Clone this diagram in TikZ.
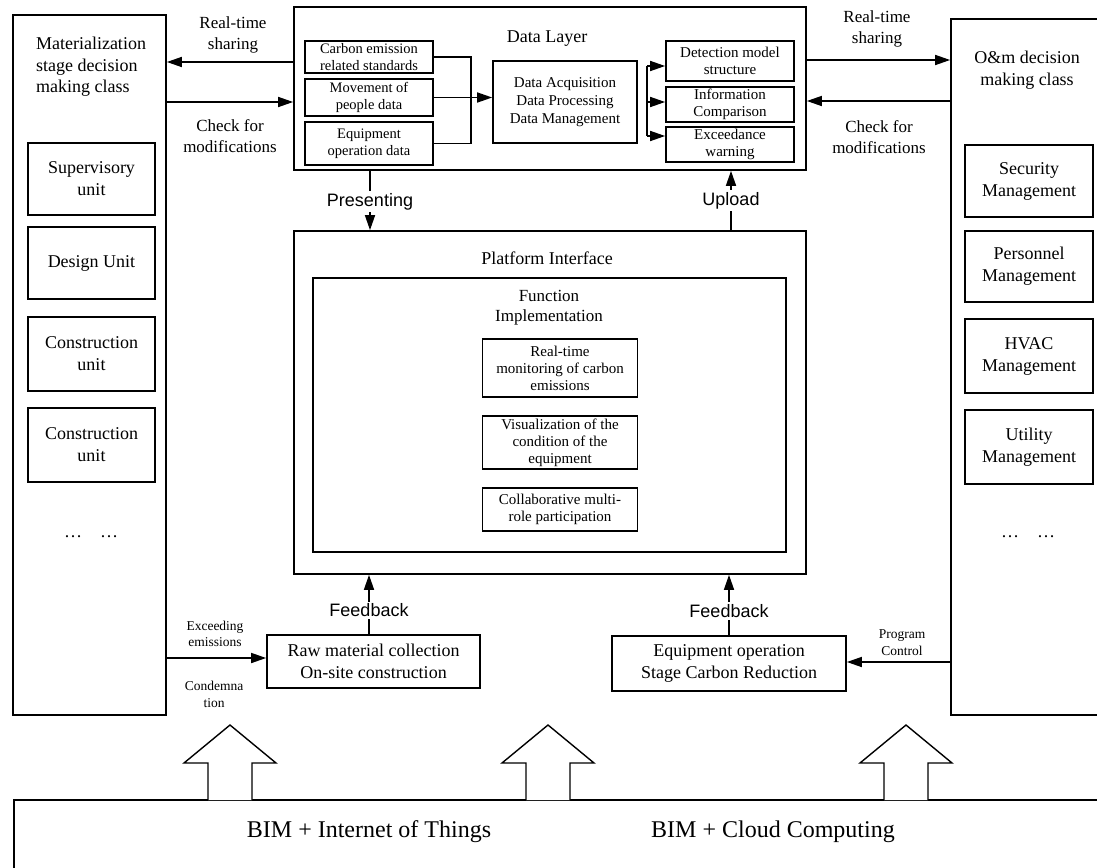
\documentclass[tikz,border=0pt]{standalone}
\usepackage{fontspec}
\setmainfont{Liberation Serif}
\newfontfamily\arialfont{Liberation Sans}
\usetikzlibrary{arrows.meta}
\tikzset{
  >={Triangle[length=15pt,width=10pt]},
  box/.style={draw, line width=1.7pt, align=center, inner sep=1pt,
    font=\fontsize{18}{22}\selectfont},
  unitbox/.style={box, minimum width=127pt},
  dbox/.style={box, minimum width=128pt, font=\fontsize{14.5}{16.5}\selectfont},
  fnbox/.style={box, minimum width=155pt, font=\fontsize{15}{17}\selectfont},
  panel/.style={draw, line width=1.7pt},
  ttl/.style={font=\fontsize{18}{21.5}\selectfont, align=center},
  lbl/.style={font=\fontsize{17}{21}\selectfont, align=center},
  note/.style={font=\fontsize{13.5}{16.5}\selectfont, align=center},
  sanslbl/.style={font=\arialfont\fontsize{18}{20}\selectfont, fill=white, inner sep=2pt},
  arr/.style={->, line width=1.6pt},
  link/.style={line width=1.6pt},
  bigarrow/.style={line width=1.4pt, fill=white, line join=miter}
}

\begin{document}
\begin{tikzpicture}[x=1pt, y=-1pt]
  \useasboundingbox (0,0) rectangle (1097,867);
  \clip (0,0) rectangle (1097,867);

  % Side columns
  \node[panel, minimum width=153pt, minimum height=700pt] (matl) at (89.5,365) {};
  \node[ttl, align=left] (matlt) at (91,67) {Materialization\\stage decision\\making class};
  \node[unitbox, minimum height=72pt] (sup) at (91.5,179) {Supervisory\\unit};
  \node[unitbox, minimum height=72pt] (des) at (91.5,263) {Design Unit};
  \node[unitbox, minimum height=74pt] (con1) at (91.5,354) {Construction\\unit};
  \node[unitbox, minimum height=74pt] (con2) at (91.5,445) {Construction\\unit};
  \node[ttl] (ldots) at (91,537) {\ldots\quad\ldots};

  \node[panel, minimum width=159pt, minimum height=696pt] (om) at (1030.5,367) {};
  \node[ttl] (omt) at (1027,70) {O\&m decision\\making class};
  \node[unitbox, minimum width=128pt, minimum height=72pt] (sec) at (1029,181) {Security\\Management};
  \node[unitbox, minimum width=128pt, minimum height=71pt] (per) at (1029,266.5) {Personnel\\Management};
  \node[unitbox, minimum width=128pt, minimum height=74pt] (hvac) at (1029,356) {HVAC\\Management};
  \node[unitbox, minimum width=128pt, minimum height=74pt] (uti) at (1029,447) {Utility\\Management};
  \node[ttl] (rdots) at (1028,537) {\ldots\quad\ldots};

  % Data layer
  \node[panel, minimum width=512pt, minimum height=163pt] (data) at (550,88.5) {};
  \node[ttl] (datat) at (547,39) {Data Layer};
  \node[dbox, minimum height=32pt] (cstd) at (369,57) {Carbon emission\\related standards};
  \node[dbox, minimum height=37pt] (move) at (369,97.5) {Movement of\\people data};
  \node[dbox, minimum height=43pt] (equip) at (369,143.5) {Equipment\\operation data};
  \node[box, minimum width=144pt, minimum height=82pt, font=\fontsize{15}{18}\selectfont] (dap) at (565,102)
    {Data Acquisition\\Data Processing\\Data Management};
  \node[dbox, minimum height=40pt, font=\fontsize{15}{17.5}\selectfont] (detm) at (730,61) {Detection model\\structure};
  \node[dbox, minimum height=35pt, font=\fontsize{15}{17}\selectfont] (info) at (730,104.5) {Information\\Comparison};
  \node[dbox, minimum height=35pt, font=\fontsize{15}{17}\selectfont] (exw) at (730,144.5) {Exceedance\\warning};

  \coordinate (lj) at (471,97);
  \draw[link] (cstd.east) -| (lj) |- (equip.east);
  \draw[arr] (move.east) -- (move.east -| dap.west);
  \coordinate (rb1) at (647,66);
  \coordinate (rb2) at (647,102);
  \coordinate (rb3) at (647,136);
  \draw[link] (rb1) -- (rb3);
  \draw[arr] (rb1) -- (rb1 -| detm.west);
  \draw[arr] (rb2) -- (rb2 -| info.west);
  \draw[arr] (rb3) -- (rb3 -| exw.west);

  % Sharing and checking
  \draw[arr] (data.west |- 0,62) -- (matl.east |- 0,62);
  \draw[arr] (matl.east |- 0,102) -- (data.west |- 0,102);
  \draw[arr] (data.east |- 0,60) -- (om.west |- 0,60);
  \draw[arr] (om.west |- 0,101) -- (data.east |- 0,101);
  \node[lbl] (rts1) at (233,34.5) {Real-time\\sharing};
  \node[lbl] (chk1) at (230,136) {Check for\\modifications};
  \node[lbl] (rts2) at (877,28.5) {Real-time\\sharing};
  \node[lbl] (chk2) at (879,137.5) {Check for\\modifications};

  % Platform interface
  \node[panel, minimum width=512pt, minimum height=343pt] (plat) at (550,402.5) {};
  \node[ttl] (platt) at (547,258) {Platform Interface};
  \node[panel, minimum width=473pt, minimum height=274pt] (func) at (549.5,415) {};
  \node[ttl, font=\fontsize{17}{20}\selectfont] (funct) at (549,308) {Function\\Implementation};
  \node[fnbox, minimum height=58pt] (rtm) at (560,368) {Real-time\\monitoring of carbon\\emissions};
  \node[fnbox, minimum height=53pt] (vis) at (560,442.5) {Visualization of the\\condition of the\\equipment};
  \node[fnbox, minimum height=43pt] (collab) at (560,509.5) {Collaborative multi-\\role participation};

  \draw[arr] (data.south -| 370,0) -- node[sanslbl, pos=0.52] {Presenting} (plat.north -| 370,0);
  \draw[arr] (plat.north -| 731,0) -- node[sanslbl] {Upload} (data.south -| 731,0);

  % Carbon reduction stages
  \node[box, minimum width=213pt, minimum height=53pt] (raw) at (373.5,661.5)
    {Raw material collection\\On-site construction};
  \node[box, minimum width=234pt, minimum height=55pt] (eqop) at (729,663.5)
    {Equipment operation\\Stage Carbon Reduction};
  \draw[arr] (raw.north -| 369,0) -- node[sanslbl, pos=0.4] {Feedback} (plat.south -| 369,0);
  \draw[arr] (eqop.north) -- node[sanslbl, pos=0.4] {Feedback} (plat.south -| eqop.north);
  \draw[arr] (matl.east |- 0,658) -- (raw.west |- 0,658);
  \draw[arr] (om.west |- 0,662) -- (eqop.east |- 0,662);
  \node[note] (exc) at (215,634) {Exceeding\\emissions};
  \node[note] (cond) at (214,694.5) {Condemna\\tion};
  \node[note] (prog) at (902,642.5) {Program\\Control};

  % Technology base
  \node[panel, minimum width=1096pt, minimum height=90pt] (base) at (562,845) {};
  \node[font=\fontsize{24}{26}\selectfont] (iot) at (369,832) {BIM + Internet of Things};
  \node[font=\fontsize{24}{26}\selectfont] (cloud) at (773,832) {BIM + Cloud Computing};
  \foreach \cx in {230,548,906}
    \draw[bigarrow] (\cx-22,800) -- (\cx-22,763) -- (\cx-46,763) -- (\cx,725)
      -- (\cx+46,763) -- (\cx+22,763) -- (\cx+22,800);
\end{tikzpicture}
\end{document}
